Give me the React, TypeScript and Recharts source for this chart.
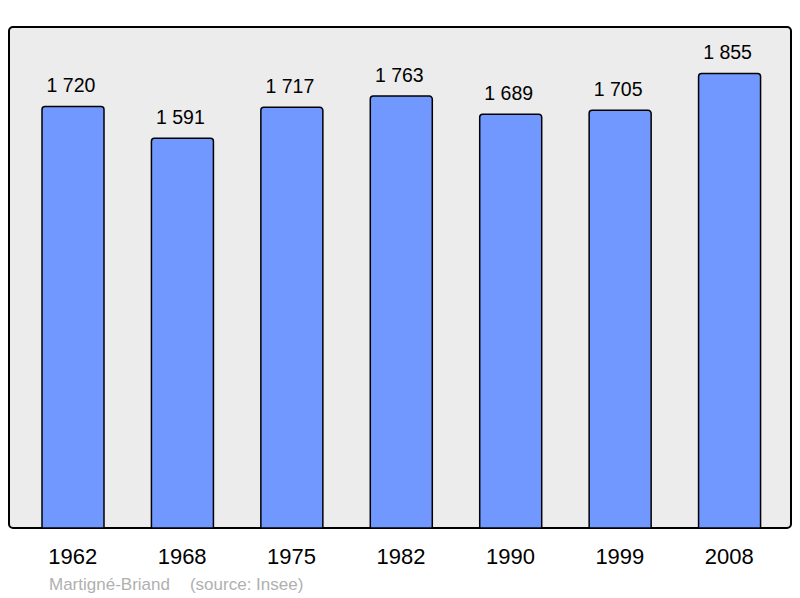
import React from "react";
import { BarChart, Bar, XAxis, YAxis, LabelList } from "recharts";

const years = ["1962", "1968", "1975", "1982", "1990", "1999", "2008"];
const population = [1720, 1591, 1717, 1763, 1689, 1705, 1855];
const placeName = "Martigné-Briand";
const sourceText = "(source: Insee)";

const data = years.map((y, i) => ({ year: y, pop: population[i] }));

const fmt = (v: number) => {
  const s = String(v);
  return s.length > 3 ? s.slice(0, s.length - 3) + " " + s.slice(-3) : s;
};

const FONT = "'Liberation Sans', Arial, sans-serif";

const XTick = (props: any) => {
  const { x, y, payload } = props;
  return (
    <text x={x} y={y} dy={28} textAnchor="middle" fontFamily={FONT} fontSize={22} fill="#000">
      {payload.value}
    </text>
  );
};

const ValueLabel = (props: any) => {
  const { x, y, width, value } = props;
  return (
    <text x={x + width / 2 - 2} y={y - 14.5} textAnchor="middle" fontFamily={FONT} fontSize={19.5} fill="#000">
      {fmt(value)}
    </text>
  );
};

export default function App() {
  return (
    <div style={{ position: "absolute", left: 0, top: 0, width: 800, height: 598, background: "#fff" }}>
      <div
        style={{
          position: "absolute",
          left: 8,
          top: 26,
          width: 780,
          height: 499,
          border: "2px solid #000",
          borderRadius: 5,
          background: "#ececec",
        }}
      />
      <div style={{ position: "absolute", left: 0, top: 0 }}>
        <BarChart width={800} height={598} data={data} margin={{ top: 27, right: 16, left: 18, bottom: 40 }}>
          <XAxis dataKey="year" axisLine={false} tickLine={false} height={30} tick={<XTick />} interval={0} />
          <YAxis hide domain={[0, 2045]} />
          <Bar dataKey="pop" fill="#7098ff" stroke="#000" strokeWidth={1.5} barSize={62} radius={[3, 3, 0, 0]} isAnimationActive={false}>
            <LabelList dataKey="pop" content={<ValueLabel />} />
          </Bar>
        </BarChart>
      </div>
      <div style={{ position: "absolute", left: 49, top: 575, fontFamily: FONT, fontSize: 17, color: "#b0b0b0", whiteSpace: "pre" }}>
        <span>{placeName}</span>
        <span style={{ marginLeft: 20 }}>{sourceText}</span>
      </div>
    </div>
  );
}
